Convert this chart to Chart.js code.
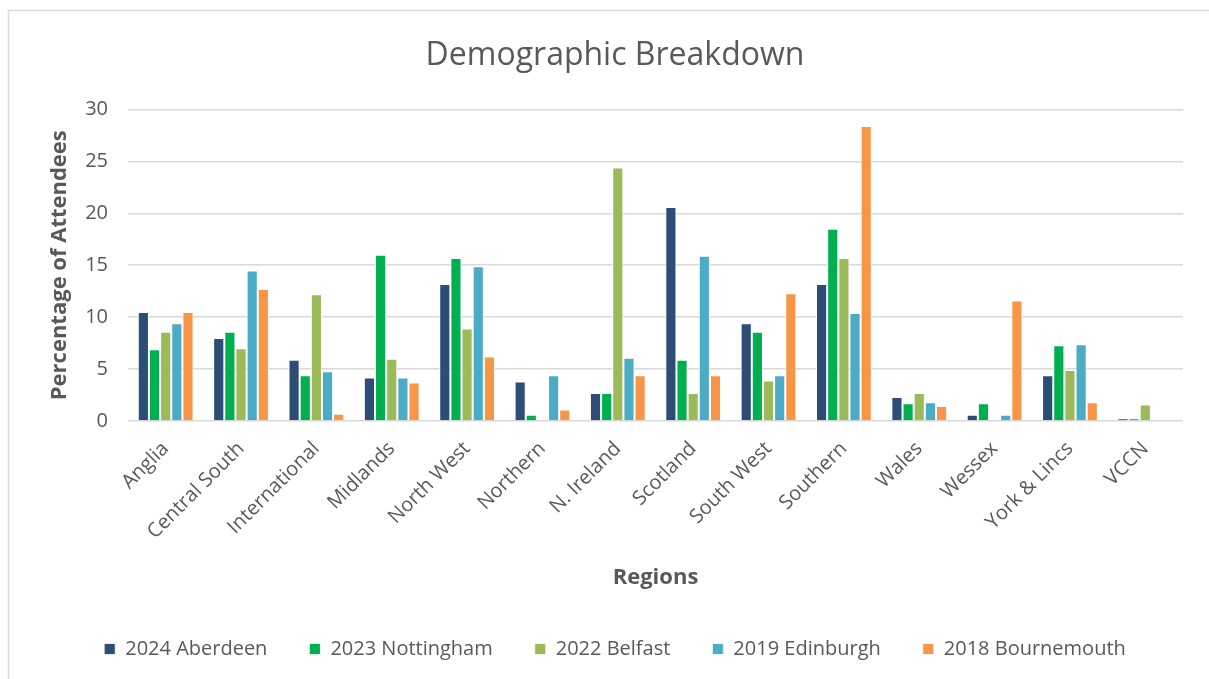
<!DOCTYPE html>
<html>
<head>
<meta charset="utf-8">
<script src="https://cdn.jsdelivr.net/npm/chart.js@4"></script>
<style>
  html, body { margin: 0; padding: 0; background: #fff; }
  #wrap { width: 1209px; height: 679px; position: relative; }
</style>
</head>
<body>
<div id="wrap"><canvas id="demoChart"></canvas></div>
<script>
var regions = ['Anglia', 'Central South', 'International', 'Midlands', 'North West', 'Northern',
    'N. Ireland', 'Scotland', 'South West', 'Southern', 'Wales', 'Wessex', 'York & Lincs', 'VCCN'];

var aberdeen2024 = [10.5, 8.0, 5.9, 4.2, 13.2, 3.8, 2.7, 20.6, 9.4, 13.2, 2.3, 0.6, 4.4, 0.25];
var nottingham2023 = [6.9, 8.6, 4.4, 16.0, 15.7, 0.6, 2.7, 5.9, 8.6, 18.5, 1.7, 1.7, 7.3, 0.25];
var belfast2022 = [8.6, 7.0, 12.2, 6.0, 8.9, 0, 24.4, 2.7, 3.9, 15.7, 2.7, 0, 4.9, 1.6];
var edinburgh2019 = [9.4, 14.5, 4.8, 4.2, 14.9, 4.4, 6.1, 15.9, 4.4, 10.4, 1.8, 0.6, 7.4, 0];
var bournemouth2018 = [10.5, 12.7, 0.7, 3.7, 6.2, 1.1, 4.4, 4.4, 12.3, 28.4, 1.45, 11.6, 1.8, 0];

var yTicks = [0, 5, 10, 15, 20, 25, 30];

var grey = '#595959';
var fontFamily = "'Open Sans', 'Noto Sans', sans-serif";

function series(label, data, color) {
    return {
        label: label,
        data: data,
        backgroundColor: color,
        borderColor: '#ffffff',
        borderWidth: { top: 1, left: 1, right: 1, bottom: 0 },
        borderSkipped: false
    };
}

// light frame round the chart, as in the exported picture
var framePlugin = {
    id: 'frame',
    beforeDraw: function (chart) {
        var ctx = chart.ctx;
        ctx.save();
        ctx.fillStyle = '#ffffff';
        ctx.fillRect(0, 0, chart.width, chart.height);
        ctx.strokeStyle = '#D9D9D9';
        ctx.lineWidth = 1.5;
        ctx.strokeRect(8.5, 10.5, chart.width + 20, chart.height + 20);
        ctx.restore();
    }
};

var ctx = document.getElementById('demoChart').getContext('2d');
new Chart(ctx, {
    type: 'bar',
    data: {
        labels: regions,
        datasets: [
            series('2024 Aberdeen', aberdeen2024, '#2C4D75'),
            series('2023 Nottingham', nottingham2023, '#00B050'),
            series('2022 Belfast', belfast2022, '#9BBB59'),
            series('2019 Edinburgh', edinburgh2019, '#4BACC6'),
            series('2018 Bournemouth', bournemouth2018, '#F79646')
        ]
    },
    options: {
        responsive: true,
        maintainAspectRatio: false,
        animation: false,
        layout: {
            padding: { left: 47, right: 26, top: 0, bottom: 10 }
        },
        datasets: {
            bar: {
                categoryPercentage: 0.74,
                barPercentage: 1.0
            }
        },
        plugins: {
            title: {
                display: true,
                text: 'Demographic Breakdown',
                color: grey,
                font: { family: fontFamily, size: 32, weight: 'normal' },
                padding: { top: 37, bottom: 34 }
            },
            legend: {
                position: 'bottom',
                labels: {
                    color: grey,
                    font: { family: fontFamily, size: 20 },
                    boxWidth: 11,
                    boxHeight: 11,
                    padding: 42
                }
            },
            tooltip: { enabled: false }
        },
        scales: {
            x: {
                grid: { display: false },
                border: { display: false },
                ticks: {
                    color: grey,
                    font: { family: fontFamily, size: 20 },
                    minRotation: 45,
                    maxRotation: 45,
                    padding: 8
                },
                title: {
                    display: true,
                    text: 'Regions',
                    color: grey,
                    font: { family: fontFamily, size: 22, weight: 'bold' },
                    padding: { top: 4, bottom: 6 }
                },
                afterFit: function (scale) { scale.height = 176; }
            },
            y: {
                min: 0,
                max: 30,
                afterBuildTicks: function (scale) {
                    scale.ticks = yTicks.map(function (v) { return { value: v }; });
                },
                grid: { color: '#D9D9D9', lineWidth: 1.5, drawTicks: false },
                border: { display: false },
                ticks: {
                    color: grey,
                    font: { family: fontFamily, size: 20 },
                    padding: 20
                },
                title: {
                    display: true,
                    text: 'Percentage of Attendees',
                    color: grey,
                    font: { family: fontFamily, size: 22, weight: 'bold' },
                    padding: { top: 0, bottom: 4 }
                },
                afterFit: function (scale) { scale.width = 81; }
            }
        }
    },
    plugins: [framePlugin]
});
</script>
</body>
</html>
